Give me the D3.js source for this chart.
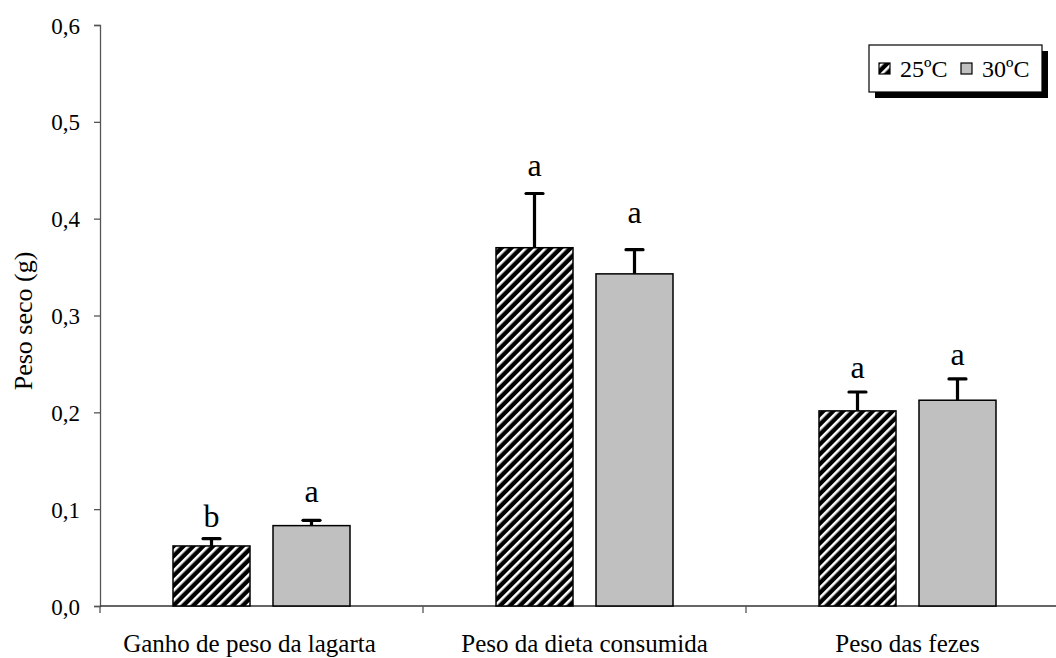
<!DOCTYPE html>
<html><head><meta charset="utf-8">
<script src="https://cdn.jsdelivr.net/npm/d3@7"></script>
<style>body{margin:0;background:#fff}svg{display:block}text{font-family:"Liberation Serif","Times New Roman",serif;fill:#000}</style>
</head><body>
<svg id="c" width="1056" height="658"></svg>
<script>
const categories = ["Ganho de peso da lagarta", "Peso da dieta consumida", "Peso das fezes"];
const series = ["25ºC", "30ºC"];
const means25 = [0.062, 0.370, 0.2015];
const means30 = [0.083, 0.343, 0.2125];
const err25 = [0.0075, 0.056, 0.0195];
const err30 = [0.0055, 0.025, 0.022];
const letters25 = ["b", "a", "a"];
const letters30 = ["a", "a", "a"];
const letterAt25 = [0.082, 0.444, 0.235];
const letterAt30 = [0.107, 0.396, 0.249];
const yTicks = [0, 0.1, 0.2, 0.3, 0.4, 0.5, 0.6];

const svg = d3.select("#c");
const defs = svg.append("defs");
const pat = defs.append("pattern").attr("id","hatch").attr("patternUnits","userSpaceOnUse")
  .attr("width",7).attr("height",7).attr("patternTransform","rotate(45)");
pat.append("rect").attr("width",7).attr("height",7).attr("fill","#000");
pat.append("rect").attr("x",0).attr("y",0).attr("width",2.6).attr("height",7).attr("fill","#fff");

const L = 100, T = 25, B = 606;
const x = d3.scaleBand().domain(categories).range([L, L + 3*323]);
const y = d3.scaleLinear().domain([0, 0.6]).range([B, T]);
const x1 = d3.scaleBand().domain(series).range([-88.5, 88.5]).paddingInner(0.23).paddingOuter(0);

// axes
const yAxis = d3.axisLeft(y).tickValues(yTicks).tickSize(6).tickFormat(d => d3.format(".1f")(d).replace(".", ","));
const gy = svg.append("g").attr("transform",`translate(${L},0)`).call(yAxis);
gy.select(".domain").attr("stroke","#555").attr("stroke-width",1.3);
gy.selectAll(".tick line").attr("stroke","#555").attr("stroke-width",1.3);
gy.selectAll(".tick text").attr("font-size",23).attr("x",-20).attr("dy","0.35em").style("font-family","Liberation Serif");

const gx = svg.append("g").attr("transform",`translate(0,${B})`);
gx.append("line").attr("x1",L).attr("x2",1056).attr("y1",0).attr("y2",0).attr("stroke","#333").attr("stroke-width",1.3);
const bounds = [L, x(categories[1]), x(categories[2])];
gx.selectAll("line.tk").data(bounds).join("line").attr("class","tk")
  .attr("x1",d=>d).attr("x2",d=>d).attr("y1",0).attr("y2",7).attr("stroke","#555").attr("stroke-width",1.3);
gx.selectAll("text").data(categories).join("text")
  .attr("x",(d,i)=>x(d)+x.bandwidth()/2 - (i===0?12:0)).attr("y",46).attr("text-anchor","middle").attr("font-size",25).text(d=>d);

svg.append("text").attr("transform",`translate(32,321) rotate(-90)`).attr("text-anchor","middle")
  .attr("font-size",26).text("Peso seco (g)");

// data
const rows = [];
categories.forEach((c,i)=>{
  rows.push({c, s:series[0], v:means25[i], e:err25[i], l:letters25[i], la:letterAt25[i]});
  rows.push({c, s:series[1], v:means30[i], e:err30[i], l:letters30[i], la:letterAt30[i]});
});
const cx = d => x(d.c) + x.bandwidth()/2 + x1(d.s);
const g = svg.append("g");
g.selectAll("line.err").data(rows).join("line").attr("class","err")
  .attr("x1",d=>cx(d)+x1.bandwidth()/2).attr("x2",d=>cx(d)+x1.bandwidth()/2)
  .attr("y1",d=>y(d.v)).attr("y2",d=>y(d.v+d.e)).attr("stroke","#000").attr("stroke-width",3.2);
g.selectAll("line.cap").data(rows).join("line").attr("class","cap")
  .attr("x1",d=>cx(d)+x1.bandwidth()/2-8.5).attr("x2",d=>cx(d)+x1.bandwidth()/2+8.5)
  .attr("y1",d=>y(d.v+d.e)).attr("y2",d=>y(d.v+d.e)).attr("stroke","#000").attr("stroke-width",3.2).attr("stroke-linecap","round");
g.selectAll("rect.bar").data(rows).join("rect").attr("class","bar")
  .attr("x",d=>cx(d)).attr("width",x1.bandwidth())
  .attr("y",d=>y(d.v)).attr("height",d=>B-y(d.v))
  .attr("fill",d=>d.s===series[0]?"url(#hatch)":"#c0c0c0")
  .attr("stroke","#000").attr("stroke-width",1.5);
g.selectAll("text.let").data(rows).join("text").attr("class","let")
  .attr("x",d=>cx(d)+x1.bandwidth()/2).attr("y",d=>y(d.la)).attr("text-anchor","middle")
  .attr("font-size",32).text(d=>d.l);

// legend
const lg = svg.append("g").attr("transform","translate(869,45)");
lg.append("rect").attr("x",6).attr("y",6).attr("width",173).attr("height",47).attr("fill","#000");
lg.append("rect").attr("x",0).attr("y",0).attr("width",173).attr("height",47).attr("fill","#fff").attr("stroke","#000").attr("stroke-width",1.2);
const items = lg.selectAll("g.it").data(series).join("g").attr("class","it")
  .attr("transform",(d,i)=>`translate(${10 + i*82},0)`);
items.append("rect").attr("x",0).attr("y",18).attr("width",11).attr("height",11)
  .attr("fill",(d,i)=>i===0?"url(#hatch)":"#c0c0c0").attr("stroke","#000").attr("stroke-width",1.2);
items.append("text").attr("x",21).attr("y",32).attr("font-size",24).text(d=>d);
</script>
</body></html>
